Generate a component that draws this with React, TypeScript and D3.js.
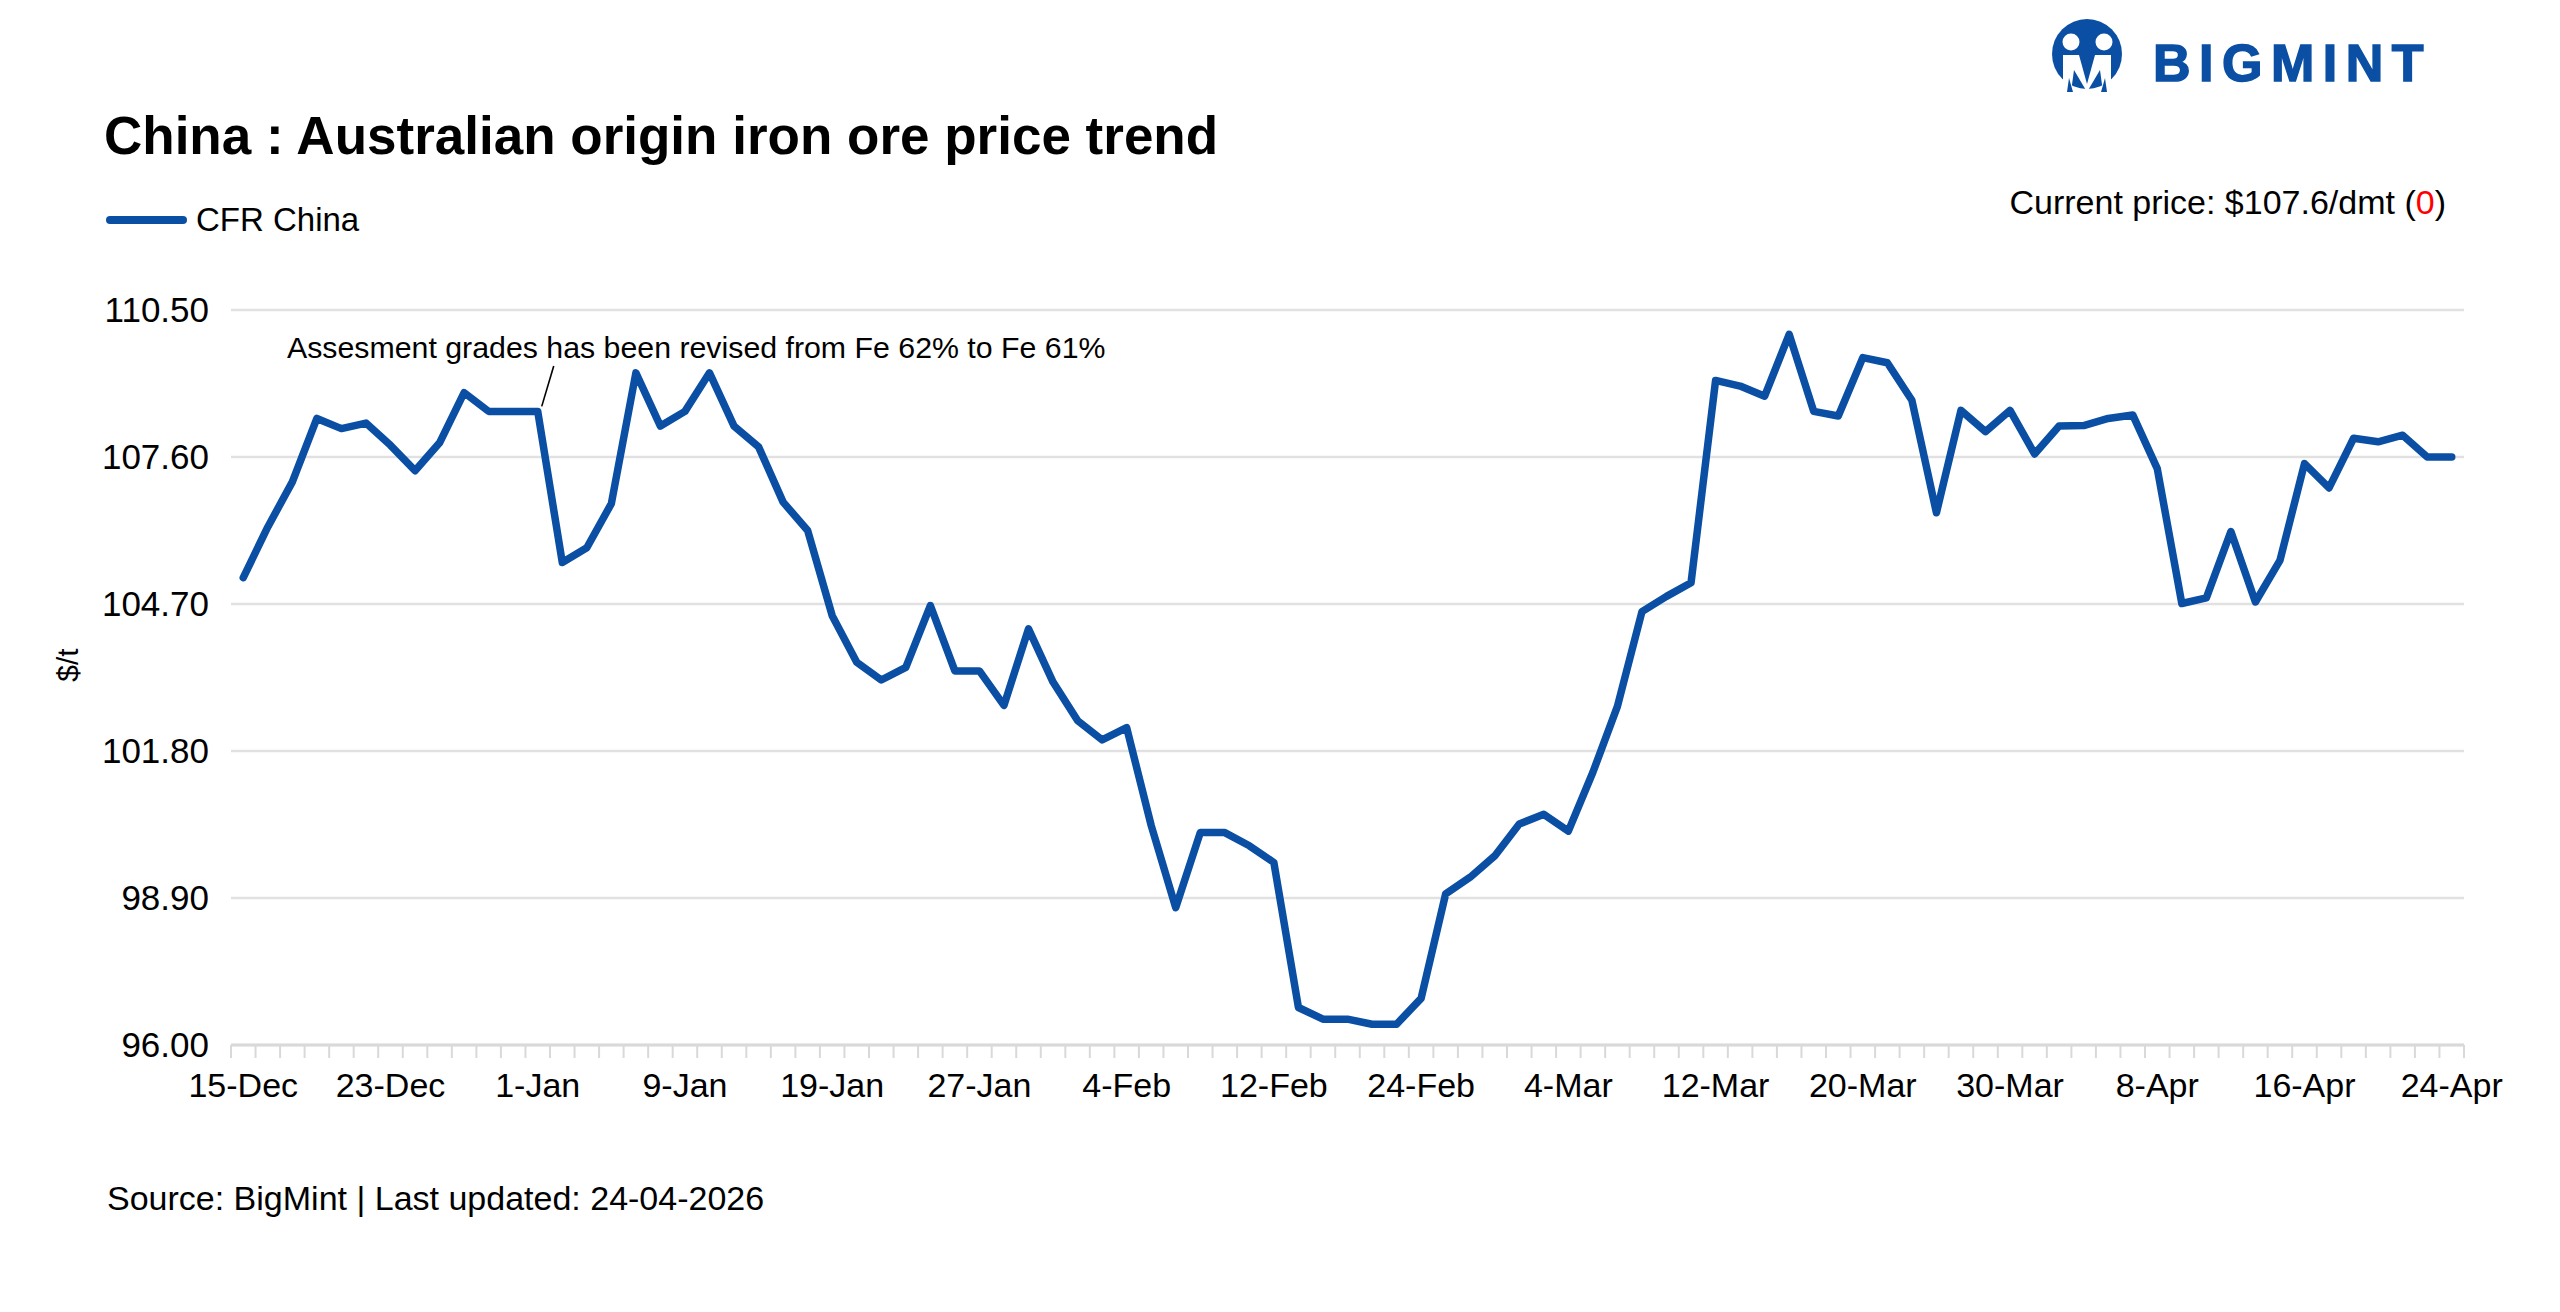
import React from "react";
import * as d3 from "d3";

const dates = [
  "15-Dec","16-Dec","17-Dec","18-Dec","19-Dec","22-Dec","23-Dec","24-Dec","26-Dec","29-Dec","30-Dec","31-Dec",
  "1-Jan","2-Jan","5-Jan","6-Jan","7-Jan","8-Jan","9-Jan","12-Jan","13-Jan","14-Jan","15-Jan","16-Jan",
  "19-Jan","20-Jan","21-Jan","22-Jan","23-Jan","26-Jan","27-Jan","28-Jan","29-Jan","30-Jan","2-Feb","3-Feb",
  "4-Feb","5-Feb","6-Feb","9-Feb","10-Feb","11-Feb","12-Feb","13-Feb","16-Feb","19-Feb","20-Feb","23-Feb",
  "24-Feb","25-Feb","26-Feb","27-Feb","2-Mar","3-Mar","4-Mar","5-Mar","6-Mar","9-Mar","10-Mar","11-Mar",
  "12-Mar","13-Mar","16-Mar","17-Mar","18-Mar","19-Mar","20-Mar","23-Mar","24-Mar","25-Mar","26-Mar","27-Mar",
  "30-Mar","31-Mar","1-Apr","2-Apr","3-Apr","7-Apr","8-Apr","9-Apr","10-Apr","13-Apr","14-Apr","15-Apr",
  "16-Apr","17-Apr","20-Apr","21-Apr","22-Apr","23-Apr","24-Apr"
];

const cfrChina = [
  105.22,106.22,107.11,108.36,108.16,108.27,107.83,107.33,107.88,108.87,108.5,108.5,
  108.5,105.52,105.81,106.68,109.26,108.21,108.5,109.26,108.21,107.8,106.71,106.15,
  104.47,103.55,103.2,103.45,104.67,103.38,103.38,102.7,104.21,103.16,102.4,102.02,
  102.26,100.33,98.71,100.19,100.19,99.93,99.6,96.74,96.51,96.51,96.41,96.41,
  96.92,98.98,99.31,99.73,100.36,100.55,100.22,101.38,102.68,104.55,104.85,105.12,
  109.11,109.0,108.8,110.02,108.5,108.41,109.56,109.46,108.72,106.5,108.52,108.1,
  108.52,107.66,108.21,108.22,108.36,108.43,107.37,104.71,104.82,106.13,104.74,105.56,
  107.47,106.99,107.97,107.9,108.03,107.6,107.6
];

const yTicks = [96.0, 98.9, 101.8, 104.7, 107.6, 110.5];
const labelEvery = 6;

const FONT = "'Liberation Sans', Arial, sans-serif";
const BLUE = "#0a4fa3";
const GRID = "#e1e1e1";

export default function App() {
  const W = 2560, H = 1312;
  const x0 = 231, x1 = 2464, yTop = 310, yBot = 1045;
  const x = d3.scaleBand<string>().domain(dates).range([x0, x1]).padding(0);
  const bw = x.bandwidth();
  const cx = (d: string) => (x(d) as number) + bw / 2;
  const y = d3.scaleLinear().domain([96, 110.5]).range([yBot, yTop]);
  const line = d3.line<number>().x((_, i) => cx(dates[i])).y((v) => y(v));
  const path = line(cfrChina) || "";
  const tickXs = dates.map((d) => x(d) as number).concat([x1]);
  const annX = cx(dates[12]);
  const annY = y(cfrChina[12]);

  return (
    <svg width={W} height={H} style={{ position: "absolute", left: 0, top: 0, background: "#fff" }} fontFamily={FONT}>
      <rect x={0} y={0} width={W} height={H} fill="#fff" />
      {/* Logo */}
      <g>
        <circle cx={2087} cy={54} r={35} fill={BLUE} />
        <circle cx={2071} cy={42} r={8.5} fill="#fff" />
        <circle cx={2104} cy={42} r={8.5} fill="#fff" />
        <path d="M2063,55 L2079,55 L2087,84 L2095,55 L2111,55 L2111,92 L2103,92 L2100,70 L2087,92 L2074,70 L2071,92 L2063,92 Z" fill="#fff" />
        <path d="M2069,78 L2073,92 L2067,92 Z M2105,78 L2107,92 L2101,92 Z" fill={BLUE} />
        <text x={2153} y={81} fontSize={52} fontWeight={700} fill={BLUE} letterSpacing={8.5} stroke={BLUE} strokeWidth={1.5}>BIGMINT</text>
      </g>
      {/* Title */}
      <text x={104} y={154} fontSize={53} fontWeight={700} fill="#000">China : Australian origin iron ore price trend</text>
      {/* Legend */}
      <line x1={110} x2={183} y1={220} y2={220} stroke={BLUE} strokeWidth={8} strokeLinecap="round" />
      <text x={196} y={231} fontSize={33} fill="#000">CFR China</text>
      {/* Current price */}
      <text x={2446} y={214} fontSize={34} fill="#000" textAnchor="end">
        Current price: $107.6/dmt (<tspan fill="#ff0000">0</tspan>)
      </text>
      {/* Gridlines */}
      {yTicks.map((t) => (
        <line key={"g" + t} x1={x0} x2={x1} y1={y(t)} y2={y(t)} stroke={GRID} strokeWidth={2.5} />
      ))}
      {/* Y labels */}
      {yTicks.map((t) => (
        <text key={"yl" + t} x={209} y={y(t) + 12} fontSize={35} textAnchor="end" fill="#000">{t.toFixed(2)}</text>
      ))}
      <text transform={`translate(78,665) rotate(-90)`} fontSize={30} textAnchor="middle" fill="#000">$/t</text>
      {/* X axis ticks */}
      {tickXs.map((tx, i) => (
        <line key={"t" + i} x1={tx} x2={tx} y1={yBot} y2={yBot + 13} stroke="#d9d9d9" strokeWidth={2} />
      ))}
      <line x1={x0} x2={x1} y1={yBot} y2={yBot} stroke="#d9d9d9" strokeWidth={3} />
      {dates.map((d, i) =>
        i % labelEvery === 0 ? (
          <text key={"xl" + d} x={cx(d)} y={1097} fontSize={34} textAnchor="middle" fill="#000">{d}</text>
        ) : null
      )}
      {/* Series */}
      <path d={path} fill="none" stroke={BLUE} strokeWidth={7.5} strokeLinejoin="round" strokeLinecap="round" />
      {/* Annotation */}
      <line x1={annX + 16} y1={366} x2={annX + 4} y2={annY - 5} stroke="#000" strokeWidth={1.6} />
      <text x={287} y={358} fontSize={30.3} fill="#000">Assesment grades has been revised from Fe 62% to Fe 61%</text>
      {/* Source */}
      <text x={107} y={1210} fontSize={34} fill="#000">Source: BigMint | Last updated: 24-04-2026</text>
    </svg>
  );
}
